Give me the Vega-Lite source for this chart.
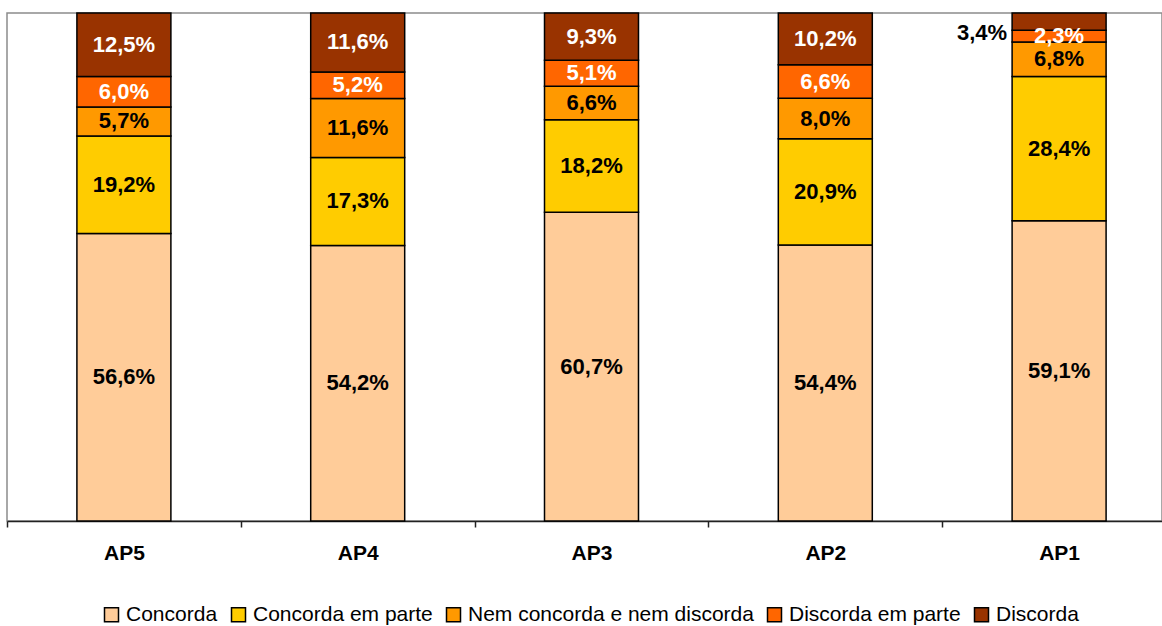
{
  "$schema": "https://vega.github.io/schema/vega-lite/v6.json",
  "autosize": {"type": "none"},
  "width": 1155,
  "height": 508,
  "padding": {"left": 7, "top": 13, "right": 0, "bottom": 105},
  "background": "white",
  "config": {
    "font": "Liberation Sans",
    "view": {"stroke": "#8c8c8c", "strokeWidth": 1.5}
  },
  "data": {
    "values": [
      {"ap": "AP5", "cat": "Concorda", "ord": 1, "v": 56.6, "label": "56,6%"},
      {"ap": "AP5", "cat": "Concorda em parte", "ord": 2, "v": 19.2, "label": "19,2%"},
      {"ap": "AP5", "cat": "Nem concorda e nem discorda", "ord": 3, "v": 5.7, "label": "5,7%"},
      {"ap": "AP5", "cat": "Discorda em parte", "ord": 4, "v": 6.0, "label": "6,0%"},
      {"ap": "AP5", "cat": "Discorda", "ord": 5, "v": 12.5, "label": "12,5%"},
      {"ap": "AP4", "cat": "Concorda", "ord": 1, "v": 54.2, "label": "54,2%"},
      {"ap": "AP4", "cat": "Concorda em parte", "ord": 2, "v": 17.3, "label": "17,3%"},
      {"ap": "AP4", "cat": "Nem concorda e nem discorda", "ord": 3, "v": 11.6, "label": "11,6%"},
      {"ap": "AP4", "cat": "Discorda em parte", "ord": 4, "v": 5.2, "label": "5,2%"},
      {"ap": "AP4", "cat": "Discorda", "ord": 5, "v": 11.6, "label": "11,6%"},
      {"ap": "AP3", "cat": "Concorda", "ord": 1, "v": 60.7, "label": "60,7%"},
      {"ap": "AP3", "cat": "Concorda em parte", "ord": 2, "v": 18.2, "label": "18,2%"},
      {"ap": "AP3", "cat": "Nem concorda e nem discorda", "ord": 3, "v": 6.6, "label": "6,6%"},
      {"ap": "AP3", "cat": "Discorda em parte", "ord": 4, "v": 5.1, "label": "5,1%"},
      {"ap": "AP3", "cat": "Discorda", "ord": 5, "v": 9.3, "label": "9,3%"},
      {"ap": "AP2", "cat": "Concorda", "ord": 1, "v": 54.4, "label": "54,4%"},
      {"ap": "AP2", "cat": "Concorda em parte", "ord": 2, "v": 20.9, "label": "20,9%"},
      {"ap": "AP2", "cat": "Nem concorda e nem discorda", "ord": 3, "v": 8.0, "label": "8,0%"},
      {"ap": "AP2", "cat": "Discorda em parte", "ord": 4, "v": 6.6, "label": "6,6%"},
      {"ap": "AP2", "cat": "Discorda", "ord": 5, "v": 10.2, "label": "10,2%"},
      {"ap": "AP1", "cat": "Concorda", "ord": 1, "v": 59.1, "label": "59,1%"},
      {"ap": "AP1", "cat": "Concorda em parte", "ord": 2, "v": 28.4, "label": "28,4%"},
      {"ap": "AP1", "cat": "Nem concorda e nem discorda", "ord": 3, "v": 6.8, "label": "6,8%"},
      {"ap": "AP1", "cat": "Discorda em parte", "ord": 4, "v": 2.3, "label": "2,3%"},
      {"ap": "AP1", "cat": "Discorda", "ord": 5, "v": 3.4, "label": "3,4%"}
    ]
  },
  "encoding": {
    "x": {
      "field": "ap",
      "type": "nominal",
      "sort": ["AP5", "AP4", "AP3", "AP2", "AP1"],
      "scale": {"range": [0, 1169], "paddingInner": 0, "paddingOuter": 0},
      "axis": {
        "title": null,
        "labelAngle": 0,
        "tickBand": "extent",
        "domainColor": "#222222",
        "domainWidth": 1.5,
        "tickColor": "#222222",
        "tickWidth": 1.5,
        "tickSize": 6,
        "labelPadding": 15,
        "labelFont": "Liberation Sans",
        "labelFontSize": 21,
        "labelFontWeight": "bold",
        "labelColor": "black",
        "grid": false
      }
    },
    "y": {
      "field": "v",
      "type": "quantitative",
      "stack": "normalize",
      "scale": {"domain": [0, 1], "nice": false},
      "axis": null
    },
    "order": {"field": "ord", "type": "quantitative"}
  },
  "layer": [
    {
      "mark": {"type": "bar", "stroke": "black", "strokeWidth": 1.5, "width": {"band": 0.402}},
      "encoding": {
        "color": {
          "field": "cat",
          "type": "nominal",
          "scale": {
            "domain": ["Concorda", "Concorda em parte", "Nem concorda e nem discorda", "Discorda em parte", "Discorda"],
            "range": ["#FFCC99", "#FFCC00", "#FF9900", "#FF6600", "#993300"]
          },
          "legend": {
            "title": null,
            "orient": "none",
            "legendX": 94,
            "legendY": 591,
            "direction": "horizontal",
            "symbolType": "square",
            "symbolSize": 196,
            "symbolStrokeColor": "black",
            "symbolStrokeWidth": 1.5,
            "symbolOpacity": 1,
            "labelFont": "Liberation Sans",
            "labelFontSize": 21,
            "labelColor": "black",
            "labelOffset": 4,
            "columnPadding": 10,
            "labelLimit": 400
          }
        }
      }
    },
    {
      "mark": {"type": "text", "font": "Liberation Sans", "fontSize": 22, "fontWeight": "bold", "align": "center", "baseline": "middle"},
      "encoding": {
        "y": {"field": "v", "type": "quantitative", "stack": "normalize", "bandPosition": 0.5},
        "text": {
          "field": "label",
          "condition": {"test": "datum.ap === 'AP1' && datum.cat === 'Discorda'", "value": ""}
        },
        "color": {
          "condition": {"test": "datum.cat === 'Discorda' || datum.cat === 'Discorda em parte'", "value": "white"},
          "value": "black"
        }
      }
    },
    {
      "mark": {"type": "text", "font": "Liberation Sans", "fontSize": 22, "fontWeight": "bold", "align": "right", "baseline": "middle", "dx": -52, "dy": 11, "color": "black"},
      "encoding": {
        "y": {"field": "v", "type": "quantitative", "stack": "normalize", "bandPosition": 0.5},
        "text": {
          "field": "label",
          "condition": {"test": "!(datum.ap === 'AP1' && datum.cat === 'Discorda')", "value": ""}
        }
      }
    }
  ]
}
